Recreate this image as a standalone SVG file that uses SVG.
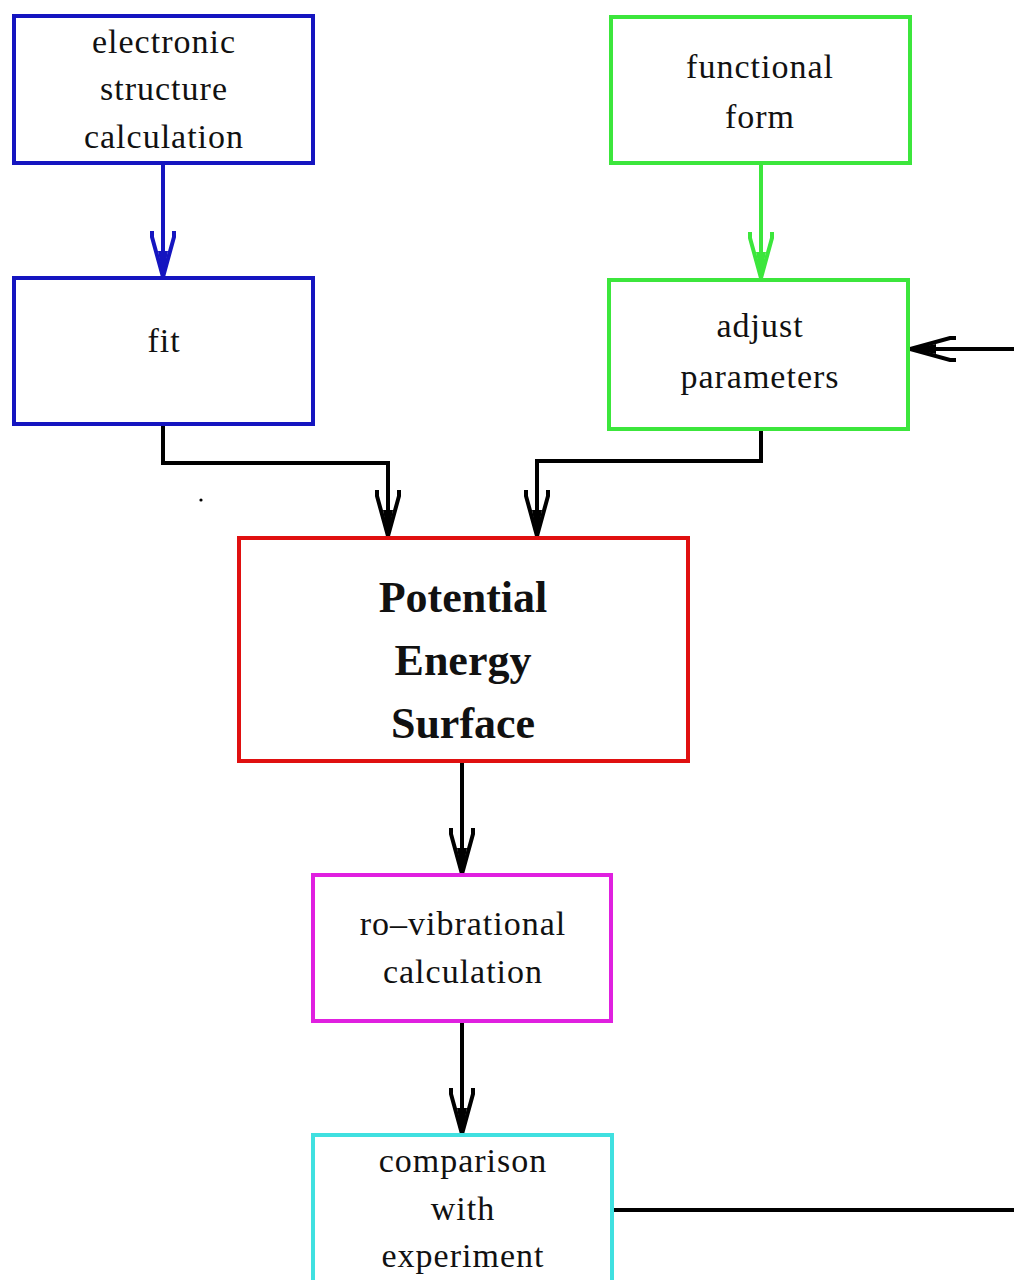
<svg xmlns="http://www.w3.org/2000/svg" width="1014" height="1280" viewBox="0 0 1014 1280">
<style>
.box{fill:#ffffff;stroke-width:4}
.t{font-family:"Liberation Serif","Times New Roman",serif;font-size:34px;letter-spacing:1px;text-anchor:middle;fill:#111}
.b{font-family:"Liberation Serif","Times New Roman",serif;font-size:44px;font-weight:bold;text-anchor:middle;fill:#111}
.c{fill:none;stroke-width:4;stroke-linejoin:miter}
</style>
<defs>
<marker id="ab" viewBox="-52 -15 54 30" markerWidth="54" markerHeight="30" refX="0" refY="0" orient="auto" markerUnits="userSpaceOnUse">
<path d="M-46,-11 L-40,-11 L0,0 L-40,11 L-46,11" fill="none" stroke="#1515c0" stroke-width="4"/>
<path d="M-26,-5 L0,0 L-26,5 Z" fill="#1515c0"/>
</marker>
<marker id="ag" viewBox="-52 -15 54 30" markerWidth="54" markerHeight="30" refX="0" refY="0" orient="auto" markerUnits="userSpaceOnUse">
<path d="M-46,-11 L-40,-11 L0,0 L-40,11 L-46,11" fill="none" stroke="#3ce63c" stroke-width="4"/>
<path d="M-26,-5 L0,0 L-26,5 Z" fill="#3ce63c"/>
</marker>
<marker id="ak" viewBox="-52 -15 54 30" markerWidth="54" markerHeight="30" refX="0" refY="0" orient="auto" markerUnits="userSpaceOnUse">
<path d="M-46,-11 L-40,-11 L0,0 L-40,11 L-46,11" fill="none" stroke="#000" stroke-width="4"/>
<path d="M-26,-5 L0,0 L-26,5 Z" fill="#000"/>
</marker>
</defs>
<rect width="1014" height="1280" fill="#ffffff"/>
<g id="connectors">
<line class="c" x1="163" y1="163" x2="163" y2="277" stroke="#1515c0" marker-end="url(#ab)"/>
<line class="c" x1="761" y1="163" x2="761" y2="278" stroke="#3ce63c" marker-end="url(#ag)"/>
<polyline class="c" points="163,424 163,463 388,463 388,536" stroke="#000" marker-end="url(#ak)"/>
<polyline class="c" points="761,430 761,461 537,461 537,536" stroke="#000" marker-end="url(#ak)"/>
<line class="c" x1="462" y1="762" x2="462" y2="874" stroke="#000" marker-end="url(#ak)"/>
<line class="c" x1="462" y1="1021" x2="462" y2="1134" stroke="#000" marker-end="url(#ak)"/>
<polyline class="c" points="613,1210 1020,1210 1020,349 910,349" stroke="#000" marker-end="url(#ak)"/>
</g>
<circle cx="201" cy="500" r="1.6" fill="#000"/>
<g id="electronic">
<rect class="box" x="14" y="16" width="299" height="147" stroke="#1515c0"/>
<text class="t" x="164" y="53">electronic</text>
<text class="t" x="164" y="100">structure</text>
<text class="t" x="164" y="148">calculation</text>
</g>
<g id="fit">
<rect class="box" x="14" y="278" width="299" height="146" stroke="#1515c0"/>
<text class="t" x="164" y="352">fit</text>
</g>
<g id="functional">
<rect class="box" x="611" y="17" width="299" height="146" stroke="#3ce63c"/>
<text class="t" x="760" y="78">functional</text>
<text class="t" x="760" y="128">form</text>
</g>
<g id="adjust">
<rect class="box" x="609" y="280" width="299" height="149" stroke="#3ce63c"/>
<text class="t" x="760" y="337">adjust</text>
<text class="t" x="760" y="388">parameters</text>
</g>
<g id="pes">
<rect class="box" x="239" y="538" width="449" height="223" stroke="#e01010" stroke-width="5"/>
<text class="b" x="463" y="612">Potential</text>
<text class="b" x="463" y="675">Energy</text>
<text class="b" x="463" y="738">Surface</text>
</g>
<g id="rovib">
<rect class="box" x="313" y="875" width="298" height="146" stroke="#e020e0"/>
<text class="t" x="463" y="935">ro–vibrational</text>
<text class="t" x="463" y="983">calculation</text>
</g>
<g id="comparison">
<rect class="box" x="313" y="1135" width="299" height="160" stroke="#40e0e0"/>
<text class="t" x="463" y="1172">comparison</text>
<text class="t" x="463" y="1220">with</text>
<text class="t" x="463" y="1267">experiment</text>
</g>
</svg>
